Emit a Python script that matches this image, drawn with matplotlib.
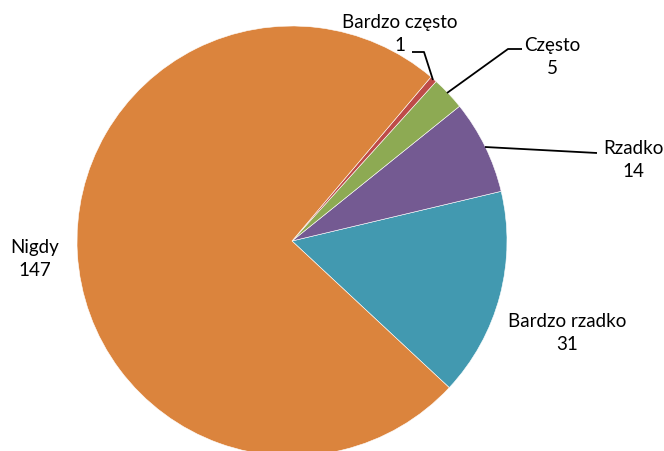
import matplotlib
matplotlib.use("Agg")
import matplotlib.pyplot as plt

# answers, in the order the wedges are drawn (counter-clockwise)
categories = ["Bardzo rzadko", "Rzadko", "Często", "Bardzo często", "Nigdy"]
counts = [31, 14, 5, 1, 147]
colors = ["#4299B0", "#745A92", "#8DAA53", "#BE4B48", "#DB843D"]

W, H = 664, 451
fig = plt.figure(figsize=(W / 100, H / 100), dpi=100)
ax = fig.add_axes([0, 0, 1, 1])

cx, cy, r = 292, H - 241, 215
ax.pie(counts, colors=colors, startangle=-43, counterclock=True,
       center=(cx, cy), radius=r, frame=True,
       wedgeprops=dict(edgecolor="white", linewidth=0.4))
ax.set_xlim(0, W)
ax.set_ylim(0, H)
ax.set_aspect("equal")
ax.axis("off")

# label block centres (pixels from top-left) and leader lines
label_pos = {
    "Bardzo rzadko": (567, 333),
    "Rzadko": (633, 160),
    "Często": (552, 57),
    "Bardzo często": (400, 34),
    "Nigdy": (35, 259),
}
leaders = {
    "Bardzo często": [(433, 80), (424, 52), (412, 52)],
    "Często": [(447, 93), (508, 49), (522, 49)],
    "Rzadko": [(485, 147), (597, 153)],
}

font = ["Lato", "DejaVu Sans"]
for name, n in zip(categories, counts):
    x, y = label_pos[name]
    ax.text(x, H - y, f"{name}\n{n}", ha="center", va="center",
            fontsize=13.5, family=font, linespacing=1.4, color="black")
    if name in leaders:
        pts = leaders[name]
        ax.plot([p[0] for p in pts], [H - p[1] for p in pts],
                color="black", linewidth=1.3, solid_capstyle="butt")

fig.savefig("out.png", dpi=100)
